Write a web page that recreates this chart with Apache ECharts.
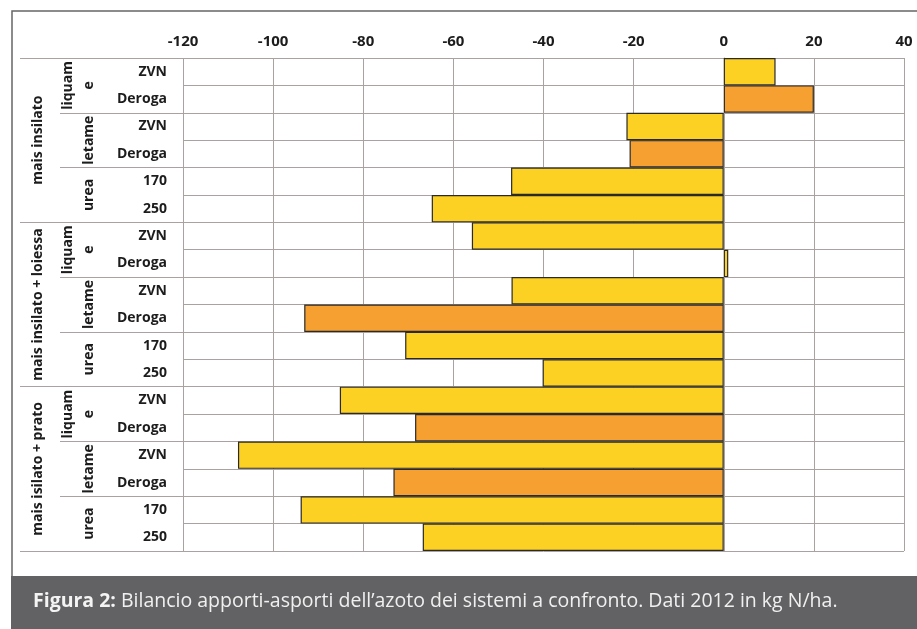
<!DOCTYPE html>
<html><head><meta charset="utf-8">
<script src="https://cdn.jsdelivr.net/npm/echarts@6/dist/echarts.min.js"></script>
<style>html,body{margin:0;padding:0;background:#fff}#c{width:917px;height:629px}</style>
</head><body><div id="c"></div>
<script>
// ---- data ----
const rowLabels = ['ZVN','Deroga','ZVN','Deroga','170','250',
                   'ZVN','Deroga','ZVN','Deroga','170','250',
                   'ZVN','Deroga','ZVN','Deroga','170','250'];
const subLabels = ['liquam\ne','letame','urea',
                   'liquam\ne','letame','urea',
                   'liquam\ne','letame','urea'];
const groupLabels = ['mais insilato','mais insilato + loiessa','mais isilato + prato'];
const values = [11.5, 20, -21.6, -20.9, -47.2, -64.8,
                -55.9, 1.0, -47.1, -93.1, -70.7, -40.2,
                -85.2, -68.5, -107.8, -73.3, -93.9, -66.8];
const colorKeys = ['Y','O','Y','O','Y','Y',
                   'Y','Y','Y','O','Y','Y',
                   'Y','O','Y','O','Y','Y'];
const xMin = -120, xMax = 40, xStep = 20;
const captionBold = 'Figura 2:';
const captionText = ' Bilancio apporti-asporti dell\u2019azoto dei sistemi a confronto. Dati 2012 in kg N/ha.';

// ---- styles ----
const COLORS = {Y: '#FDD024', O: '#F5A031'};
const GRID = '#aaa1a1';
const FONT = '"Open Sans", "Noto Sans", sans-serif';
const TXT = '#1c1c1c';

const chart = echarts.init(document.getElementById('c'), null, {renderer: 'canvas'});

function catAxis(data, tickLen, labelOpt, extra) {
  return Object.assign({
    type: 'category', data: data, inverse: true, position: 'left',
    axisLine: {show: false},
    axisTick: {show: true, interval: 0, length: tickLen, lineStyle: {color: GRID, width: 1}},
    axisLabel: Object.assign({interval: 0, hideOverlap: false, color: TXT, fontFamily: FONT,
                              fontWeight: 'bold', fontSize: 14}, labelOpt),
    splitLine: {show: false}
  }, extra || {});
}

chart.setOption({
  animation: false,
  backgroundColor: '#fff',
  grid: {left: 183, right: 13, top: 58, bottom: 78, containLabel: false},
  xAxis: {
    type: 'value', position: 'top', min: xMin, max: xMax, interval: xStep,
    axisLine: {show: false}, axisTick: {show: false},
    axisLabel: {color: TXT, fontFamily: FONT, fontWeight: 'bold', fontSize: 15, margin: 9},
    splitLine: {show: true, lineStyle: {color: GRID, width: 1}}
  },
  yAxis: [
    catAxis(rowLabels, 66, {margin: 16, fontSize: 14}, {
      splitLine: {show: true, interval: 0, lineStyle: {color: GRID, width: 1}},
      axisLine: {show: true, lineStyle: {color: GRID, width: 1}}
    }),
    catAxis(subLabels, 123, {rotate: 90, margin: 83, fontSize: 14, lineHeight: 21}),
    catAxis(groupLabels, 163, {rotate: 90, margin: 138, fontSize: 14})
  ],
  series: [{
    type: 'bar', yAxisIndex: 0, barWidth: '100%', barCategoryGap: 0,
    data: values.map((v, i) => ({
      value: v,
      itemStyle: {color: COLORS[colorKeys[i]], borderColor: '#2a2a2a', borderWidth: 1.2}
    }))
  }],
  graphic: [
    {type: 'rect', z: -1, silent: true,
     shape: {x: 12, y: 11, width: 930, height: 575},
     style: {fill: 'none', stroke: '#666', lineWidth: 1.5}},
    {type: 'rect', z: 10, silent: true,
     shape: {x: 11, y: 576, width: 910, height: 60},
     style: {fill: '#626264'}},
    {type: 'text', z: 11, silent: true, x: 33, y: 601,
     style: {
       text: '{b|' + captionBold + '}{n|' + captionText + '}',
       verticalAlign: 'middle',
       rich: {
         b: {fontFamily: '"Open Sans", sans-serif', fontWeight: 'bold', fontSize: 19.5, fill: '#f4f4f4'},
         n: {fontFamily: '"Open Sans", sans-serif', fontSize: 19.5, fill: '#f0f0f0'}
       }
     }}
  ]
});
</script></body></html>
